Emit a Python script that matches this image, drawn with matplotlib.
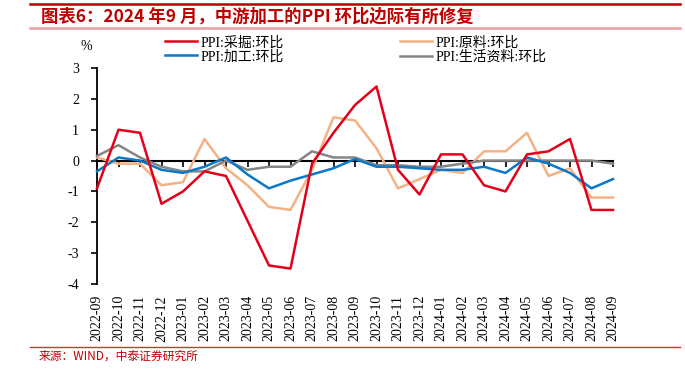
import matplotlib
matplotlib.use("Agg")
import matplotlib.pyplot as plt
from matplotlib.lines import Line2D

months = ["2022-09", "2022-10", "2022-11", "2022-12", "2023-01", "2023-02", "2023-03",
          "2023-04", "2023-05", "2023-06", "2023-07", "2023-08", "2023-09", "2023-10",
          "2023-11", "2023-12", "2024-01", "2024-02", "2024-03", "2024-04", "2024-05",
          "2024-06", "2024-07", "2024-08", "2024-09"]

mining = [-0.9, 1.0, 0.9, -1.4, -1.0, -0.35, -0.5, -1.95, -3.4, -3.5, -0.1, 0.9, 1.8, 2.4,
          -0.3, -1.1, 0.2, 0.2, -0.8, -1.0, 0.2, 0.3, 0.7, -1.6, -1.6]
raw = [0.1, -0.1, -0.1, -0.8, -0.7, 0.7, -0.25, -0.8, -1.5, -1.6, -0.3, 1.4, 1.3, 0.4,
       -0.9, -0.6, -0.3, -0.4, 0.3, 0.3, 0.9, -0.5, -0.25, -1.2, -1.2]
processing = [-0.35, 0.1, 0.0, -0.3, -0.4, -0.2, 0.1, -0.45, -0.9, -0.65, -0.45, -0.25, 0.05, -0.2,
              -0.2, -0.25, -0.3, -0.3, -0.2, -0.4, 0.1, -0.1, -0.4, -0.9, -0.6]
consumer = [0.15, 0.5, 0.1, -0.2, -0.35, -0.35, 0.0, -0.3, -0.2, -0.2, 0.3, 0.1, 0.1, -0.15,
            -0.15, -0.2, -0.2, -0.1, 0.0, 0.0, 0.0, 0.0, 0.0, 0.0, -0.1]

series_labels = ["PPI:采掘:环比", "PPI:原料:环比", "PPI:加工:环比", "PPI:生活资料:环比"]
series_colors = ["#E3001B", "#F4B183", "#0A78C8", "#858585"]

title_text = "图表6：2024 年9 月，中游加工的PPI 环比边际有所修复"
source_text = "来源：WIND，中泰证券研究所"
yticks = [3, 2, 1, 0, -1, -2, -3, -4]

serif = ["Liberation Serif", "Noto Sans CJK SC"]
sans = ["Noto Sans CJK SC", "DejaVu Sans"]

W, H = 685, 372
fig = plt.figure(figsize=(W / 100, H / 100), dpi=100)
ax = fig.add_axes([97 / W, 1 - 284 / H, (613 - 97) / W, (284 - 68) / H])

x = list(range(len(months)))
ax.plot(x, raw, color=series_colors[1], lw=1.8, clip_on=False, zorder=3)
ax.plot(x, consumer, color=series_colors[3], lw=1.8, clip_on=False, zorder=4)
ax.plot(x, processing, color=series_colors[2], lw=1.8, clip_on=False, zorder=5)
ax.plot(x, mining, color=series_colors[0], lw=1.8, clip_on=False, zorder=6)

ax.set_xlim(0, len(months) - 1)
ax.set_ylim(-4, 3)
ax.set_yticks(yticks)
ax.set_yticklabels([str(v) for v in yticks], fontfamily=serif, fontsize=10)
ax.tick_params(axis="y", direction="out", length=4, width=1.2, pad=9)

ax.set_xticks(x)
ax.set_xticklabels(months, rotation=90, fontfamily=serif, fontsize=10)
ax.tick_params(axis="x", length=0, pad=8)

for s in ["top", "right", "bottom"]:
    ax.spines[s].set_visible(False)
ax.spines["left"].set_linewidth(1.3)

# zero axis with upward ticks
sec = ax.secondary_xaxis(4 / 7)
sec.set_xticks(x)
sec.tick_params(axis="x", direction="in", length=4, width=1.2, labelbottom=False, labeltop=False)
sec.spines["bottom"].set_linewidth(1.5)
sec.spines["top"].set_linewidth(1.5)

fig.text(86 / W, 1 - 47 / H, "%", fontfamily=serif, fontsize=10, ha="center", va="center")

handles = [Line2D([], [], color=c, lw=1.8) for c in series_colors]
hs = [handles[0], handles[2], handles[1], handles[3]]
ls = [series_labels[0], series_labels[2], series_labels[1], series_labels[3]]
fig.legend(hs, ls, ncol=2, loc="upper left", bbox_to_anchor=(165 / W, 1 - 36 / H),
           frameon=False, prop={"family": serif, "size": 10}, handlelength=2.3,
           handletextpad=0.25, columnspacing=8.4, labelspacing=0.05, borderaxespad=0, borderpad=0)

# title decorations
fig.add_artist(Line2D([30 / W, 680 / W], [1 - 4 / H, 1 - 4 / H], color="#C00000", lw=1.8))
fig.add_artist(Line2D([30 / W, 680 / W], [1 - 27.5 / H, 1 - 27.5 / H], color="#E8A0A0", lw=1.8))
fig.text(41 / W, 1 - 16.5 / H, title_text, fontfamily=sans, fontsize=12.5, fontweight="bold",
         fontstyle="italic", color="#C00000", ha="left", va="center")

fig.add_artist(Line2D([30 / W, 680 / W], [1 - 346.5 / H, 1 - 346.5 / H], color="#D83030", lw=1.0))
fig.text(39 / W, 1 - 356 / H, source_text, fontfamily=sans, fontsize=8.5, color="#C00000",
         ha="left", va="center")

fig.savefig("out.png", dpi=100)
